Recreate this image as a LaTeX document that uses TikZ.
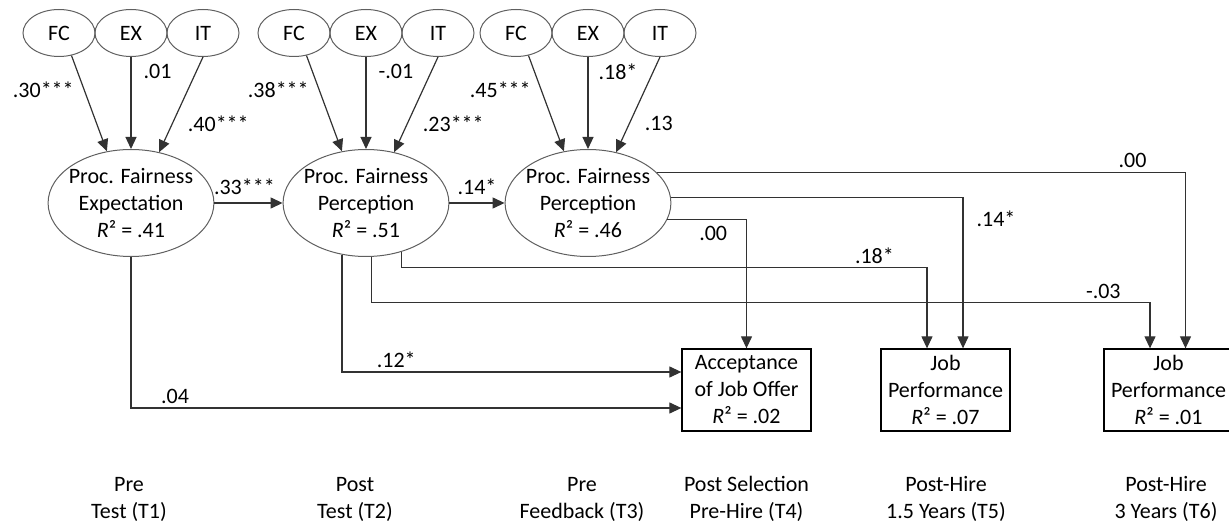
\documentclass[tikz,border=0pt]{standalone}
\usepackage{fontspec}
\setmainfont{Carlito}
\usetikzlibrary{arrows.meta,positioning,shapes.geometric,calc}
\definecolor{pathgray}{RGB}{50,50,50}
\definecolor{rimgray}{RGB}{95,95,95}

\begin{document}
\begin{tikzpicture}[x=1pt, y=-1pt,
  font=\fontsize{22}{27}\selectfont,
  lat/.style={draw=rimgray, ellipse, line width=1pt, minimum width=72pt,
              minimum height=47pt, inner sep=0pt},
  fair/.style={draw=rimgray, ellipse, line width=1pt, minimum width=165pt,
               minimum height=107pt, inner xsep=-3.5pt, inner ysep=0pt, align=center},
  outc/.style={draw, line width=1.3pt, minimum width=129pt, minimum height=82pt,
               inner sep=0pt, align=center},
  coef/.style={inner sep=2pt},
  tlabel/.style={align=center, inner sep=0pt},
  arr/.style={-{Triangle[length=12pt,width=11pt]}, draw=pathgray, line width=1.2pt}]
  \useasboundingbox (0,0) rectangle (1229,529);

  % fairness constructs
  \node[fair] (e1) at (131,203) {Proc. Fairness\\Expectation\\\textit{R}² = .41};
  \node[fair] (e2) at (366,203) {Proc. Fairness\\Perception\\\textit{R}² = .51};
  \node[fair] (e3) at (588,203) {Proc. Fairness\\Perception\\\textit{R}² = .46};

  % justice rules
  \node[lat] (ex1) at (131,33) {EX};
  \node[lat, left=-1pt of ex1]  (fc1) {FC};
  \node[lat, right=-1pt of ex1] (it1) {IT};
  \node[lat] (ex2) at (366,33) {EX};
  \node[lat, left=-1pt of ex2]  (fc2) {FC};
  \node[lat, right=-1pt of ex2] (it2) {IT};
  \node[lat] (ex3) at (588,33) {EX};
  \node[lat, left=-1pt of ex3]  (fc3) {FC};
  \node[lat, right=-1pt of ex3] (it3) {IT};

  % outcomes
  \node[outc] (acc)   at (746.5,390)  {Acceptance\\of Job Offer\\\textit{R}² = .02};
  \node[outc] (perf5) at (945.5,390)  {Job\\Performance\\\textit{R}² = .07};
  \node[outc] (perf6) at (1168.5,390) {Job\\Performance\\\textit{R}² = .01};

  % time points
  \node[tlabel] (t1) at (129,499)  {Pre\\Test (T1)};
  \node[tlabel] (t2) at (355,499)  {Post\\Test (T2)};
  \node[tlabel] (t3) at (582,499)  {Pre\\Feedback (T3)};
  \node[tlabel] (t4) at (746.5,499) {Post Selection\\Pre-Hire (T4)};
  \node[tlabel] (t5) at (946,499)  {Post-Hire\\1.5 Years (T5)};
  \node[tlabel] (t6) at (1166,499) {Post-Hire\\3 Years (T6)};

  \draw[arr] (fc1.-61) -- node[coef, pos=0.36, left=8pt] {.30***} (e1.115);
  \draw[arr] (ex1) -- node[coef, pos=0.16, right=10pt] {.01} (e1);
  \draw[arr] (it1.south) -- node[coef, pos=0.70, right=13pt] {.40***} (e1.61);
  \draw[arr] (fc2.-61) -- node[coef, pos=0.36, left=8pt] {.38***} (e2.115);
  \draw[arr] (ex2) -- node[coef, pos=0.16, right=10pt] {-.01} (e2);
  \draw[arr] (it2.south) -- node[coef, pos=0.70, right=13pt] {.23***} (e2.61);
  \draw[arr] (fc3.-61) -- node[coef, pos=0.36, left=8pt] {.45***} (e3.115);
  \draw[arr] (ex3) -- node[coef, pos=0.16, right=8pt] {.18*} (e3);
  \draw[arr] (it3.south) -- node[coef, pos=0.70, right=13pt] {.13} (e3.61);

  \draw[arr] (e1) -- node[coef, pos=0.44, above=6pt] {.33***} (e2);
  \draw[arr] (e2) -- node[coef, above=6pt] {.14*} (e3);

  \draw[arr] (e3.24) -| node[coef, pos=0.45, above=2pt] {.00} ($(perf6.north)+(17,0)$);
  \draw[arr] (e3.4) -| node[coef, pos=0.57, right=11pt] {.14*} ($(perf5.north)+(17.5,0)$);
  \draw[arr] (e3.-12) -| node[coef, pos=0.29, below=4pt] {.00} (acc.north);
  \draw[arr] (e2.-54) -- ++(0,16) -| node[coef, pos=0.45, above=2pt] {.18*} ($(perf5.north)+(-18.5,0)$);
  \draw[arr] (e2.-84) -- ++(0,46) -| node[coef, pos=0.47, above=2pt] {-.03} ($(perf6.north)+(-18.5,0)$);
  \draw[arr] (e2.-115) |- node[coef, pos=0.58, above=2pt] {.12*} ($(acc.west)+(0,-18)$);
  \draw[arr] (e1.south) |- node[coef, pos=0.54, above=2pt] {.04} ($(acc.west)+(0,18)$);
\end{tikzpicture}
\end{document}
